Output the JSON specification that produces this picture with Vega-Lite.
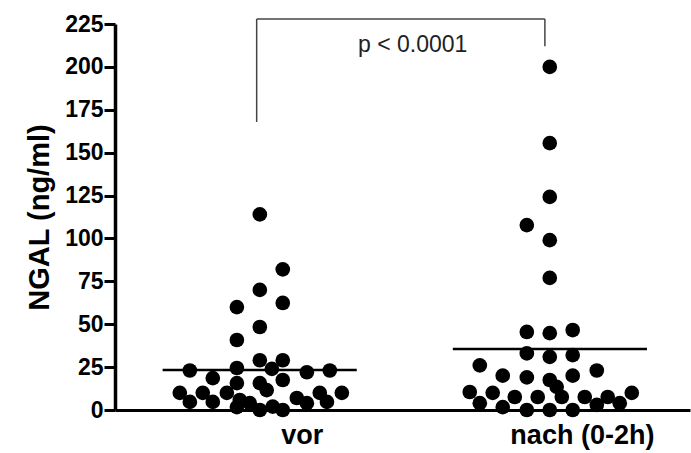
{
  "$schema": "https://vega.github.io/schema/vega-lite/v6.json",
  "width": 575,
  "height": 386,
  "autosize": "none",
  "padding": {"left": 115, "top": 24, "right": 1, "bottom": 43},
  "background": "white",
  "config": {
    "view": {"stroke": null},
    "font": "Liberation Sans"
  },
  "datasets": {
    "points": [
      {"group": "vor", "pos": 1.000, "ngal": 114},
      {"group": "vor", "pos": 1.080, "ngal": 82},
      {"group": "vor", "pos": 1.000, "ngal": 70},
      {"group": "vor", "pos": 0.920, "ngal": 60},
      {"group": "vor", "pos": 1.080, "ngal": 62.4},
      {"group": "vor", "pos": 1.000, "ngal": 48.4},
      {"group": "vor", "pos": 0.920, "ngal": 40.8},
      {"group": "vor", "pos": 1.000, "ngal": 29},
      {"group": "vor", "pos": 1.080, "ngal": 29},
      {"group": "vor", "pos": 0.756, "ngal": 23},
      {"group": "vor", "pos": 0.920, "ngal": 24.5},
      {"group": "vor", "pos": 1.042, "ngal": 24},
      {"group": "vor", "pos": 1.164, "ngal": 22},
      {"group": "vor", "pos": 1.244, "ngal": 23},
      {"group": "vor", "pos": 0.836, "ngal": 18.6},
      {"group": "vor", "pos": 1.080, "ngal": 17.5},
      {"group": "vor", "pos": 0.920, "ngal": 15.7},
      {"group": "vor", "pos": 1.000, "ngal": 15.7},
      {"group": "vor", "pos": 0.721, "ngal": 10},
      {"group": "vor", "pos": 0.801, "ngal": 10},
      {"group": "vor", "pos": 0.885, "ngal": 10},
      {"group": "vor", "pos": 1.024, "ngal": 11.6},
      {"group": "vor", "pos": 1.209, "ngal": 10},
      {"group": "vor", "pos": 1.286, "ngal": 10},
      {"group": "vor", "pos": 0.756, "ngal": 4.7},
      {"group": "vor", "pos": 0.836, "ngal": 4.7},
      {"group": "vor", "pos": 0.930, "ngal": 5.8},
      {"group": "vor", "pos": 0.965, "ngal": 4},
      {"group": "vor", "pos": 1.129, "ngal": 7},
      {"group": "vor", "pos": 1.164, "ngal": 4},
      {"group": "vor", "pos": 1.234, "ngal": 4.7},
      {"group": "vor", "pos": 0.920, "ngal": 1.7},
      {"group": "vor", "pos": 1.000, "ngal": 0},
      {"group": "vor", "pos": 1.080, "ngal": 0},
      {"group": "vor", "pos": 1.045, "ngal": 2},
      {"group": "nach (0-2h)", "pos": 2.011, "ngal": 200},
      {"group": "nach (0-2h)", "pos": 2.011, "ngal": 155.6},
      {"group": "nach (0-2h)", "pos": 2.011, "ngal": 124.2},
      {"group": "nach (0-2h)", "pos": 1.931, "ngal": 107.8},
      {"group": "nach (0-2h)", "pos": 2.011, "ngal": 99},
      {"group": "nach (0-2h)", "pos": 2.011, "ngal": 77},
      {"group": "nach (0-2h)", "pos": 1.931, "ngal": 45.5},
      {"group": "nach (0-2h)", "pos": 2.011, "ngal": 44.8},
      {"group": "nach (0-2h)", "pos": 2.091, "ngal": 46.6},
      {"group": "nach (0-2h)", "pos": 1.931, "ngal": 33},
      {"group": "nach (0-2h)", "pos": 2.011, "ngal": 31},
      {"group": "nach (0-2h)", "pos": 2.091, "ngal": 32},
      {"group": "nach (0-2h)", "pos": 1.767, "ngal": 26},
      {"group": "nach (0-2h)", "pos": 2.175, "ngal": 23},
      {"group": "nach (0-2h)", "pos": 1.847, "ngal": 20},
      {"group": "nach (0-2h)", "pos": 1.931, "ngal": 19},
      {"group": "nach (0-2h)", "pos": 2.091, "ngal": 20},
      {"group": "nach (0-2h)", "pos": 2.011, "ngal": 17.5},
      {"group": "nach (0-2h)", "pos": 2.035, "ngal": 13.5},
      {"group": "nach (0-2h)", "pos": 1.732, "ngal": 10.5},
      {"group": "nach (0-2h)", "pos": 1.812, "ngal": 10},
      {"group": "nach (0-2h)", "pos": 1.889, "ngal": 7.6},
      {"group": "nach (0-2h)", "pos": 1.969, "ngal": 7.6},
      {"group": "nach (0-2h)", "pos": 2.053, "ngal": 7.6},
      {"group": "nach (0-2h)", "pos": 2.133, "ngal": 7.6},
      {"group": "nach (0-2h)", "pos": 2.213, "ngal": 7.6},
      {"group": "nach (0-2h)", "pos": 2.297, "ngal": 10},
      {"group": "nach (0-2h)", "pos": 1.767, "ngal": 4},
      {"group": "nach (0-2h)", "pos": 1.847, "ngal": 1.7},
      {"group": "nach (0-2h)", "pos": 1.931, "ngal": 0},
      {"group": "nach (0-2h)", "pos": 2.011, "ngal": 0},
      {"group": "nach (0-2h)", "pos": 2.091, "ngal": 0},
      {"group": "nach (0-2h)", "pos": 2.255, "ngal": 4},
      {"group": "nach (0-2h)", "pos": 2.175, "ngal": 3}
    ],
    "medians": [
      {"group": "vor", "from": 0.661, "to": 1.338, "median": 23.3},
      {"group": "nach (0-2h)", "from": 1.673, "to": 2.35, "median": 35.6}
    ],
    "bracket": [
      {"x1": 0.989, "x2": 1.994, "y1": 227.9, "y2": 227.9},
      {"x1": 0.989, "x2": 0.989, "y1": 167.9, "y2": 227.9},
      {"x1": 1.994, "x2": 1.994, "y1": 212, "y2": 227.9}
    ],
    "annotation": [
      {"pos": 1.533, "ngal": 213, "label": "p < 0.0001"}
    ]
  },
  "layer": [
    {
      "data": {"name": "medians"},
      "mark": {"type": "rule", "color": "black", "strokeWidth": 2.5},
      "encoding": {
        "x": {
          "field": "from", "type": "quantitative",
          "scale": {"domain": [0.495, 2.5], "nice": false, "zero": false},
          "axis": {
            "title": null,
            "values": [1.146, 2.123],
            "labelExpr": "datum.value < 1.5 ? 'vor' : 'nach (0-2h)'",
            "ticks": false,
            "grid": false,
            "domainColor": "black",
            "domainWidth": 3,
            "labelFont": "Liberation Sans",
            "labelFontWeight": "bold",
            "labelFontSize": 27,
            "labelColor": "black",
            "labelPadding": 12,
            "labelFlush": false
          }
        },
        "x2": {"field": "to"},
        "y": {
          "field": "median", "type": "quantitative",
          "scale": {"domain": [0, 225], "nice": false},
          "axis": {
            "title": "NGAL (ng/ml)",
            "values": [0, 25, 50, 75, 100, 125, 150, 175, 200, 225],
            "grid": false,
            "domainColor": "black",
            "domainWidth": 3.5,
            "tickColor": "black",
            "tickWidth": 3,
            "tickSize": 11,
            "labelFont": "Liberation Sans",
            "labelFontWeight": "bold",
            "labelFontSize": 23,
            "labelColor": "black",
            "labelPadding": 1,
            "titleFont": "Liberation Sans",
            "titleFontWeight": "bold",
            "titleFontSize": 29,
            "titleColor": "black",
            "titlePadding": 10
          }
        }
      }
    },
    {
      "data": {"name": "points"},
      "mark": {"type": "circle", "color": "black", "opacity": 1, "size": 215},
      "encoding": {
        "x": {"field": "pos", "type": "quantitative"},
        "y": {"field": "ngal", "type": "quantitative"}
      }
    },
    {
      "data": {"name": "bracket"},
      "mark": {"type": "rule", "color": "#444444", "strokeWidth": 1.5},
      "encoding": {
        "x": {"field": "x1", "type": "quantitative"},
        "x2": {"field": "x2"},
        "y": {"field": "y1", "type": "quantitative"},
        "y2": {"field": "y2"}
      }
    },
    {
      "data": {"name": "annotation"},
      "mark": {"type": "text", "font": "Liberation Sans", "fontSize": 23, "color": "#222222", "baseline": "middle", "align": "center"},
      "encoding": {
        "x": {"field": "pos", "type": "quantitative"},
        "y": {"field": "ngal", "type": "quantitative"},
        "text": {"field": "label"}
      }
    }
  ]
}
